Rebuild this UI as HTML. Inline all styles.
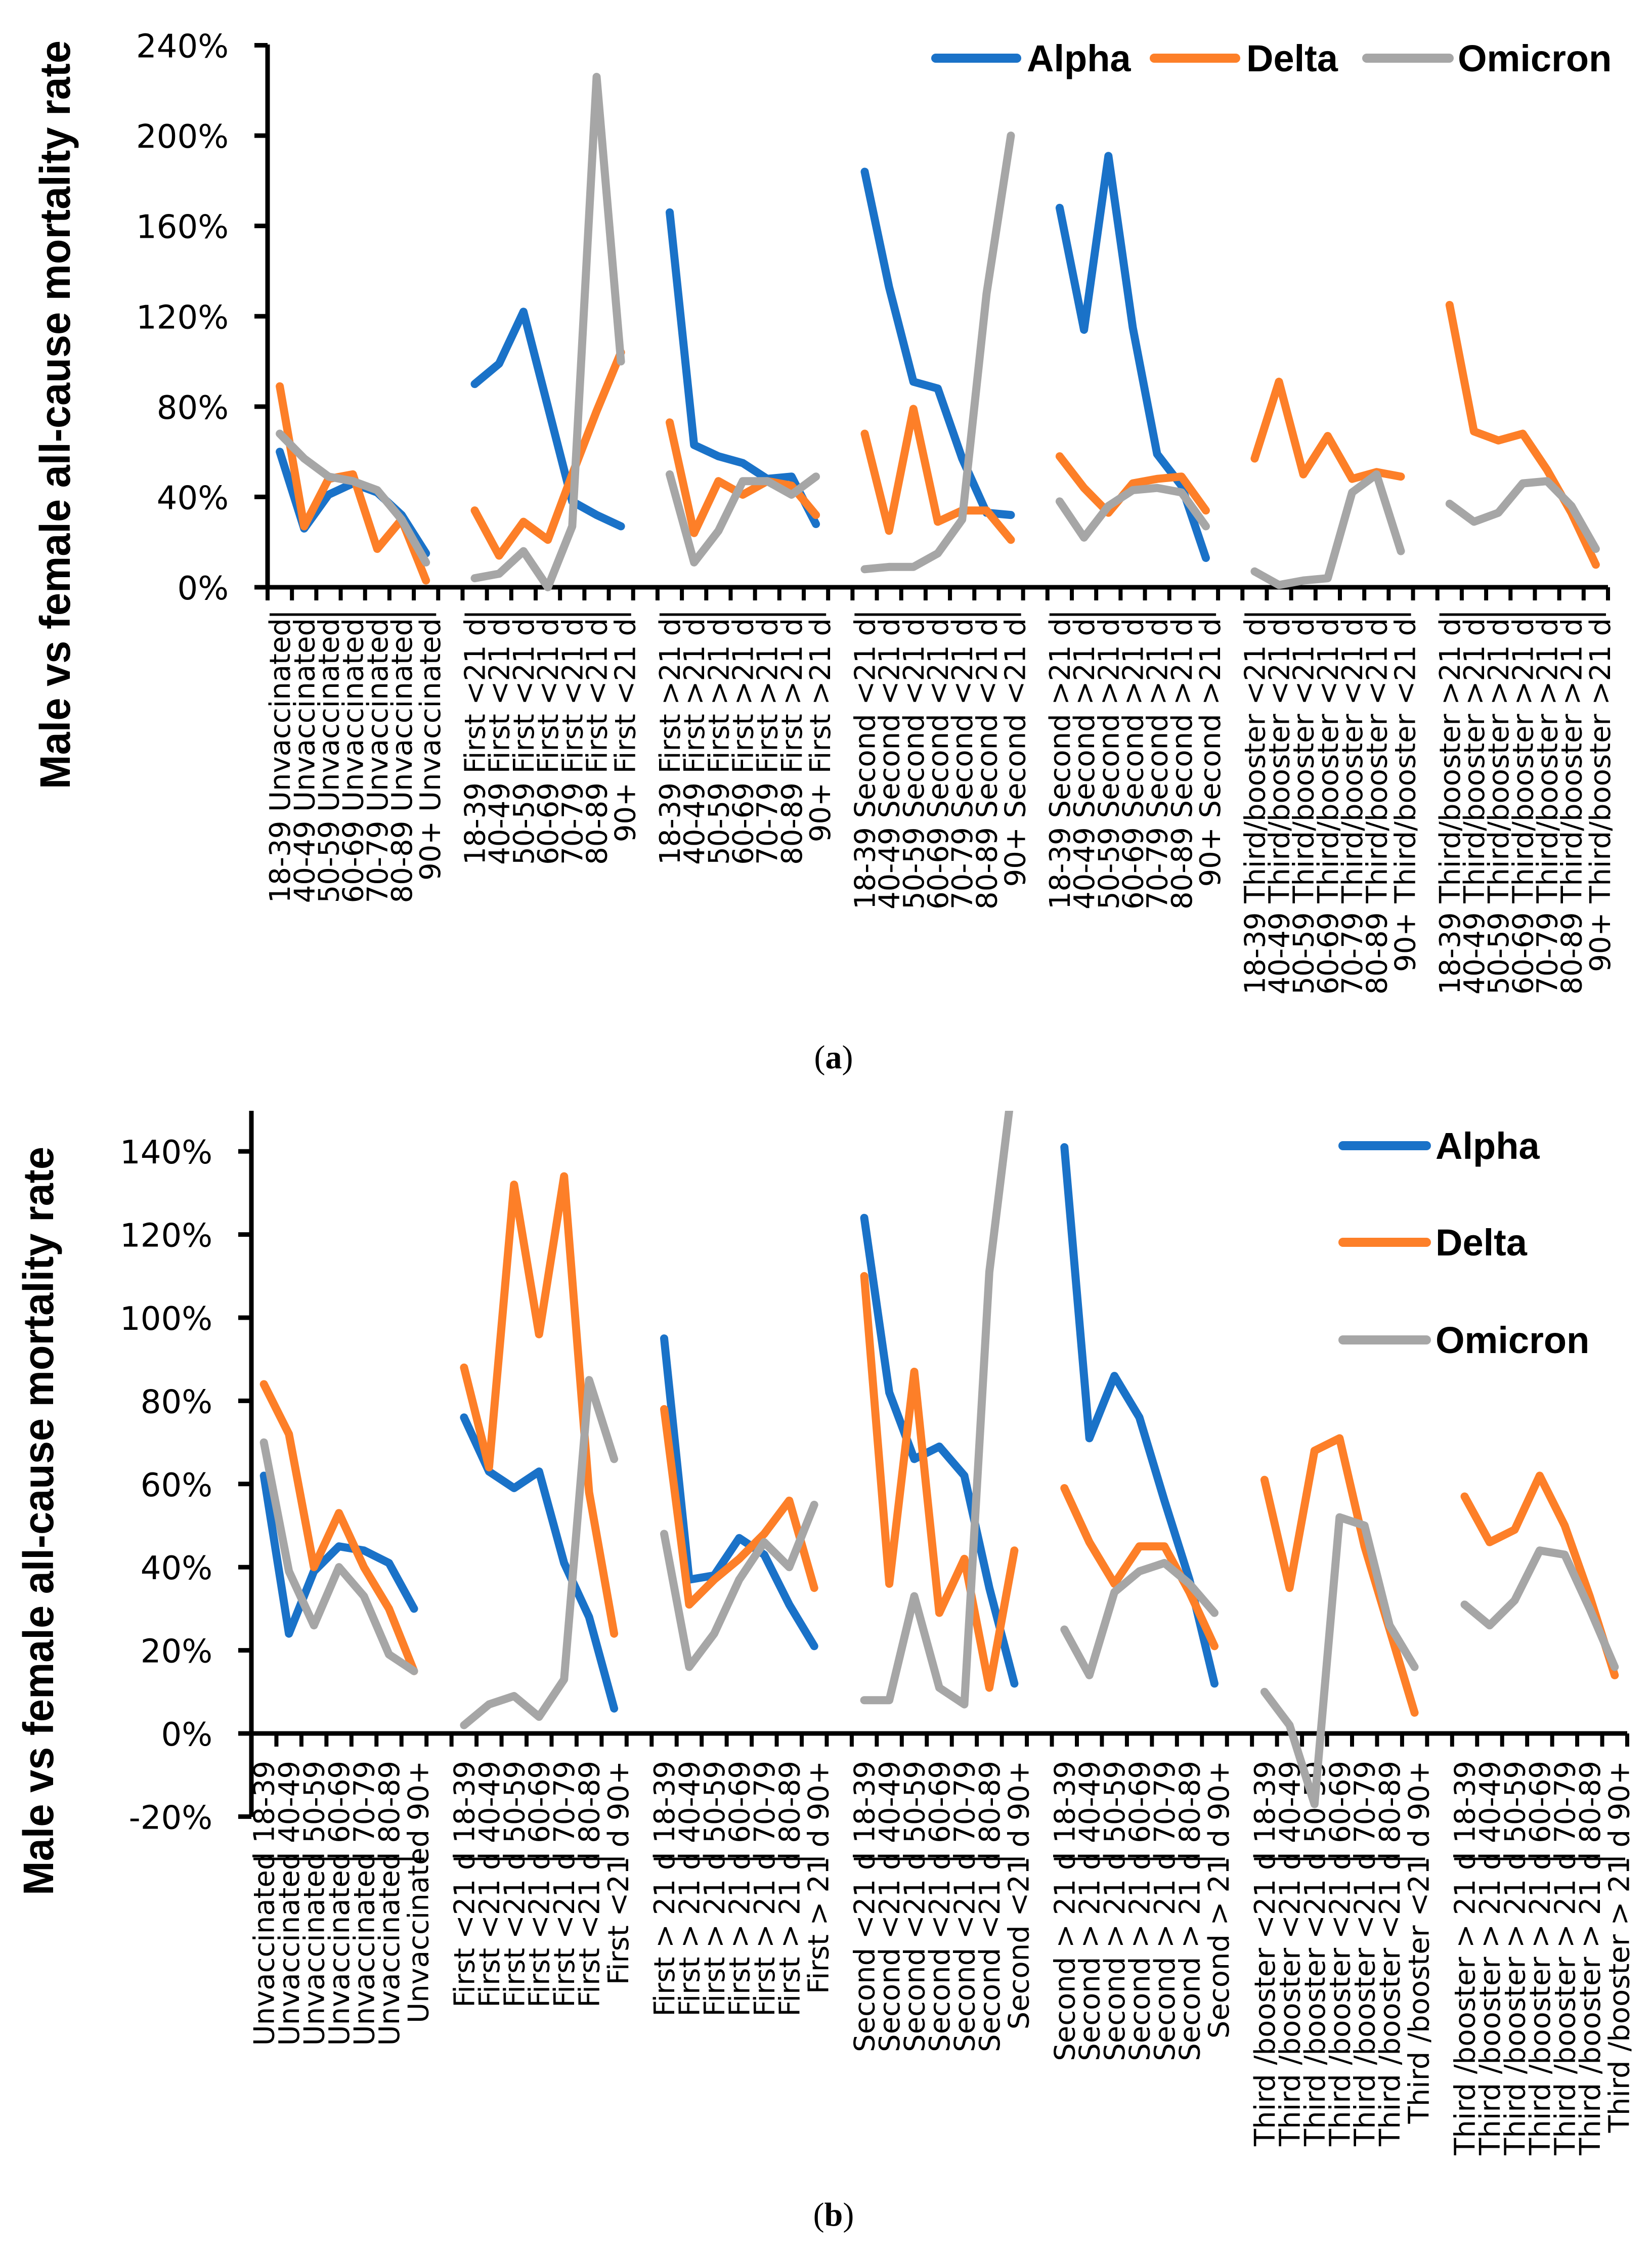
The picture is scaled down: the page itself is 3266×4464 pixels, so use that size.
<!DOCTYPE html>
<html>
<head>
<meta charset="utf-8">
<style>
html,body{margin:0;padding:0;background:#fff;}
svg{display:block;}
text{font-family:"Liberation Sans",sans-serif;fill:#000;}
.dv{font-family:"DejaVu Sans","Liberation Sans",sans-serif;}
</style>
</head>
<body>
<svg id="fig" xmlns="http://www.w3.org/2000/svg" width="3266" height="4464" viewBox="0 0 3266 4464">
  <defs>
    <clipPath id="clipA"><rect x="529" y="60" width="2700" height="1200"/></clipPath>
    <clipPath id="clipB"><rect x="497" y="2196" width="2760" height="1420"/></clipPath>
  </defs>
  <g id="panelA"></g>
  <g id="panelB"></g>
  <text x="1648" y="2112" font-size="66" text-anchor="middle" style="font-family:'Liberation Serif',serif">(<tspan font-weight="bold">a</tspan>)</text>
  <text x="1648" y="4400" font-size="66" text-anchor="middle" style="font-family:'Liberation Serif',serif">(<tspan font-weight="bold">b</tspan>)</text>
</svg>
<script>
const ageGroups = ["18-39","40-49","50-59","60-69","70-79","80-89","90+"];
const doseGroupsA = ["Unvaccinated","First <21 d","First >21 d","Second <21 d","Second >21 d","Third/booster <21 d","Third/booster >21 d"];
const doseGroupsB = ["Unvaccinated","First <21 d","First > 21 d","Second <21 d","Second > 21 d","Third /booster <21 d","Third /booster > 21 d"];

// Panel (a) values (%), per group of 7 age bands
const alphaA = [60,26,41,46,42,32,15, 90,99,122,80,38,32,27, 166,63,58,55,48,49,28, 184,133,91,88,57,33,32, 168,114,191,115,59,45,13, null,null,null,null,null,null,null, null,null,null,null,null,null,null];
const deltaA = [89,27,48,50,17,30,3, 34,14,29,21,50,78,104, 73,24,47,41,47,45,32, 68,25,79,29,34,34,21, 58,44,33,46,48,49,34, 57,91,50,67,48,51,49, 125,69,65,68,52,33,10];
const omicronA = [68,57,49,47,43,30,11, 4,6,16,0,27,226,100, 50,11,25,47,47,41,49, 8,9,9,15,30,130,200, 38,22,36,43,44,42,27, 7,1,3,4,42,50,16, 37,29,33,46,47,36,17];
const ticksA = [0,40,80,120,160,200,240];

// Panel (b) values (%)
const alphaB = [62,24,39,45,44,41,30, 76,63,59,63,41,28,6, 95,37,38,47,43,31,21, 124,82,66,69,62,35,12, 141,71,86,76,56,37,12, null,null,null,null,null,null,null, null,null,null,null,null,null,null];
const deltaB = [84,72,40,53,40,30,15, 88,64,132,96,134,58,24, 78,31,37,42,48,56,35, 110,36,87,29,42,11,44, 59,46,36,45,45,34,21, 61,35,68,71,45,25,5, 57,46,49,62,50,33,14];
const omicronB = [70,39,26,40,33,19,15, 2,7,9,4,13,85,66, 48,16,24,37,46,40,55, 8,8,33,11,7,111,160, 25,14,34,39,41,36,29, 10,2,-17,52,50,26,16, 31,26,32,44,43,30,16];
const ticksB = [-20,0,20,40,60,80,100,120,140];

const NS = "http://www.w3.org/2000/svg";
const COLORS = {alpha:"#1a72c8", delta:"#fd7f28", omicron:"#a6a6a6"};

function mk(tag, attrs, parent){
  const e = document.createElementNS(NS, tag);
  for (const k in attrs) e.setAttribute(k, attrs[k]);
  parent.appendChild(e);
  return e;
}

function drawPanel(cfg){
  const g = document.getElementById(cfg.id);
  const nCat = 55;
  const step = (cfg.x1 - cfg.x0) / nCat;
  const xOf = (gi, k) => cfg.x0 + (gi*8 + k + 0.5) * step;
  const yOf = v => cfg.yZero - (v - 0) * cfg.pxPer;

  const yt = mk("text", {x:cfg.titleX, y:cfg.titleY, "font-size":84, "font-weight":"bold", "text-anchor":"middle",
    transform:`rotate(-90 ${cfg.titleX} ${cfg.titleY})`, textLength:1480, lengthAdjust:"spacingAndGlyphs"}, g);
  
  
  yt.textContent = "Male vs female all-cause mortality rate";

  const ya = mk("line", {x1:cfg.x0, y1:cfg.yTop, x2:cfg.x0, y2:cfg.yBottom, stroke:"#000", "stroke-width":9}, g);
  
  
  cfg.ticks.forEach(t => {
    const y = yOf(t);
    const tl = mk("line", {x1:cfg.x0-26, y1:y, x2:cfg.x0, y2:y, stroke:"#000", "stroke-width":9}, g);
    
    
    const tx = mk("text", {x:cfg.labelRight, y:y+24, "font-size":64, "text-anchor":"end", "class":"dv"}, g);
    
    
    tx.textContent = t + "%";
  });

  const y0 = yOf(0);
  const xa = mk("line", {x1:cfg.x0-26, y1:y0, x2:cfg.x1, y2:y0, stroke:"#000", "stroke-width":9}, g);
  
  
  for (let i=0;i<=nCat;i++){
    const x = cfg.x0 + i*step;
    const t = mk("line", {x1:x, y1:y0, x2:x, y2:y0+26, stroke:"#000", "stroke-width":8}, g);
    
    
  }

  cfg.groups.forEach((grp, gi) => {
    const gl = mk("line", {x1:cfg.x0 + gi*8*step + 4, y1:cfg.groupLineY, x2:cfg.x0 + (gi*8+7)*step - 4, y2:cfg.groupLineY, stroke:"#000", "stroke-width":5}, g);
    
    
    ageGroups.forEach((age, k) => {
      const x = xOf(gi, k) + 20 + (k===6 ? 8 : 0);
      const y = cfg.labelTop;
      const txt = cfg.ageFirst ? (age + " " + grp) : (grp + " " + age);
      const tx = mk("text", {x:x, y:y, "font-size":56, "text-anchor":"end", "class":"dv", transform:`rotate(-90 ${x} ${y})`}, g);
      
      
      tx.textContent = txt;
    });
  });

  const series = [["alpha", cfg.alpha], ["delta", cfg.delta], ["omicron", cfg.omicron]];
  series.forEach(([name, vals]) => {
    for (let gi=0; gi<7; gi++){
      const pts = [];
      for (let k=0;k<7;k++){
        const v = vals[gi*7+k];
        if (v !== null && v !== undefined) pts.push(xOf(gi,k).toFixed(1)+","+yOf(v).toFixed(1));
      }
      if (pts.length < 2) continue;
      const pl = mk("polyline", {points:pts.join(" "), fill:"none", stroke:COLORS[name], "stroke-width":16,
        "stroke-linejoin":"round", "stroke-linecap":"round", "clip-path":`url(#${cfg.clip})`}, g);
      
      
    }
  });

  cfg.legend.forEach(([name, label, lx1, lx2, ly, tx]) => {
    const ll = mk("line", {x1:lx1, y1:ly, x2:lx2, y2:ly, stroke:COLORS[name], "stroke-width":18, "stroke-linecap":"round"}, g);
    
    
    const lt = mk("text", {x:tx, y:ly+26, "font-size":74, "font-weight":"bold"}, g);
    
    
    lt.textContent = label;
  });
}

drawPanel({
  id:"panelA", clip:"clipA", x0:529, x1:3179, yZero:1161, pxPer:(1161-89.5)/240,
  yTop:88, yBottom:1161, ticks:ticksA, labelRight:452, titleX:138, titleY:820,
  groups:doseGroupsA, ageFirst:true, labelTop:1222, groupLineY:1215,
  alpha:alphaA, delta:deltaA, omicron:omicronA,
  legend:[["alpha","Alpha",1850,2010,115,2030],["delta","Delta",2282,2443,115,2464],["omicron","Omicron",2702,2865,115,2882]]
});
drawPanel({
  id:"panelB", clip:"clipB", x0:497, x1:3217, yZero:3427, pxPer:164.4/20,
  yTop:2196, yBottom:3592, ticks:ticksB, labelRight:420, titleX:105, titleY:3007,
  groups:doseGroupsB, ageFirst:false, labelTop:3481, groupLineY:3675,
  alpha:alphaB, delta:deltaB, omicron:omicronB,
  legend:[["alpha","Alpha",2655,2820,2265,2838],["delta","Delta",2655,2820,2456,2838],["omicron","Omicron",2655,2820,2649,2838]]
});
</script>
</body>
</html>
